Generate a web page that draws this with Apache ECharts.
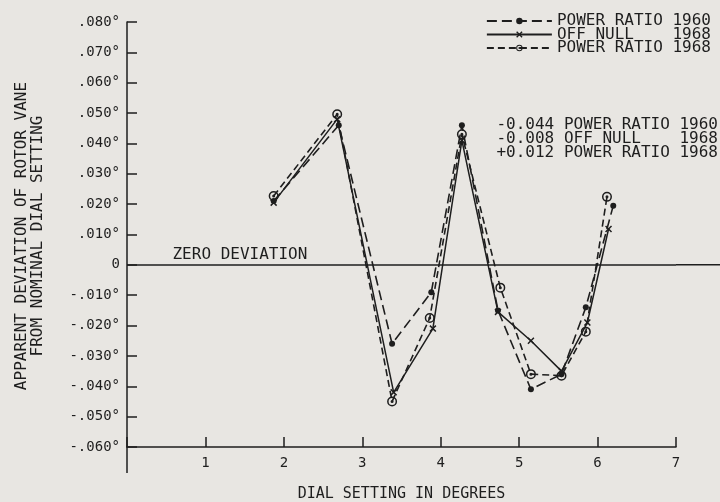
<!DOCTYPE html>
<html><head><meta charset="utf-8">
<script src="https://cdn.jsdelivr.net/npm/echarts@6/dist/echarts.min.js"></script>
<style>html,body{margin:0;padding:0;background:#e8e6e2}#c{width:720px;height:502px}</style>
</head><body><div id="c"></div><script>
// ---- data ----
const seriesNames = ['POWER RATIO 1960', 'OFF NULL    1968', 'POWER RATIO 1968'];
const pr1960X = [1.87, 2.70, 3.38, 3.88, 4.27, 4.73, 5.15, 5.54, 5.85, 6.20];
const pr1960Y = [0.021, 0.046, -0.026, -0.009, 0.046, -0.015, -0.041, -0.036, -0.014, 0.0195];
const offNullX = [1.87, 2.68, 3.40, 3.90, 4.27, 4.73, 5.15, 5.54, 5.87, 6.14];
const offNullY = [0.0205, 0.048, -0.042, -0.021, 0.041, -0.0155, -0.025, -0.035, -0.019, 0.0118];
const pr1968X = [1.87, 2.68, 3.38, 3.86, 4.27, 4.76, 5.15, 5.54, 5.85, 6.12];
const pr1968Y = [0.0227, 0.0496, -0.045, -0.0175, 0.043, -0.0075, -0.036, -0.0365, -0.022, 0.0224];
const meanLabels = ['-0.044 POWER RATIO 1960', '-0.008 OFF NULL    1968', '+0.012 POWER RATIO 1968'];
const zeroLabel = 'ZERO DEVIATION';
const xAxisTitle = 'DIAL SETTING IN DEGREES';
const yAxisTitle = ['APPARENT DEVIATION OF ROTOR VANE', 'FROM NOMINAL DIAL SETTING'];
const xMin = 0, xMax = 7, xStep = 1;
const yMin = -0.06, yMax = 0.08, yStep = 0.01;

// ---- styling ----
const INK = '#1e1e1e';
const BG = '#e8e6e2';
const FONT = 'DejaVu Sans Mono';
const circleDot = 'path://M10,0A10,10,0,1,1,10,20A10,10,0,1,1,10,0ZM10,3A7,7,0,1,0,10,17A7,7,0,1,0,10,3ZM10,7A3,3,0,1,1,10,13A3,3,0,1,1,10,7Z';
const cross = 'path://M0,1.5L1.5,0L5,3.5L8.5,0L10,1.5L6.5,5L10,8.5L8.5,10L5,6.5L1.5,10L0,8.5L3.5,5Z';
const pairs = (xs, ys) => xs.map((x, i) => [x, ys[i]]);

const chart = echarts.init(document.getElementById('c'), null, {renderer: 'canvas'});
const option = {
  backgroundColor: BG,
  animation: false,
  textStyle: {fontFamily: FONT, color: INK},
  grid: {left: 127, right: 44, top: 22, bottom: 55, outerBoundsMode: 'none', containLabel: false},
  legend: {
    orient: 'vertical', right: 4, top: 8, itemWidth: 65, itemHeight: 8, itemGap: -2.5,
    align: 'left',
    textStyle: {fontFamily: FONT, fontSize: 16, color: INK, lineHeight: 14},
    data: seriesNames
  },
  xAxis: {
    type: 'value', min: xMin, max: xMax, interval: xStep,
    name: xAxisTitle, nameLocation: 'middle', nameGap: 40,
    nameTextStyle: {fontFamily: FONT, fontSize: 15, color: INK},
    axisLine: {onZero: false, lineStyle: {color: INK, width: 1.5}},
    axisTick: {inside: true, length: 10, lineStyle: {color: INK, width: 1.5}},
    axisLabel: {margin: 9, fontFamily: FONT, fontSize: 14, color: INK,
      formatter: v => (v === 0 ? '' : String(v))},
    splitLine: {show: false}
  },
  yAxis: {
    type: 'value', min: yMin, max: yMax, interval: yStep,
    axisLine: {show: true, onZero: false, lineStyle: {color: INK, width: 1.5}},
    axisTick: {show: true, inside: true, length: 10, lineStyle: {color: INK, width: 1.5}},
    axisLabel: {margin: 7, fontFamily: FONT, fontSize: 14, color: INK,
      formatter: v => {
        const m = Math.round(v * 1000);
        if (m === 0) return '0';
        return (m < 0 ? '-' : '') + '.' + String(Math.abs(m)).padStart(3, '0') + '°';
      }},
    splitLine: {show: false}
  },
  series: [
    {
      name: seriesNames[0], type: 'line', data: pairs(pr1960X, pr1960Y),
      symbol: 'circle', symbolSize: 6,
      itemStyle: {color: INK},
      lineStyle: {color: INK, width: 1.6, type: [10, 5]},
      markLine: {
        silent: true, symbol: 'none', label: {show: false},
        lineStyle: {color: INK, width: 1.5, type: 'solid'},
        data: [{yAxis: 0}]
      }
    },
    {
      name: seriesNames[1], type: 'line', data: pairs(offNullX, offNullY),
      symbol: cross, symbolSize: 7,
      itemStyle: {color: INK},
      lineStyle: {color: INK, width: 1.5, type: 'solid'}
    },
    {
      name: seriesNames[2], type: 'line', data: pairs(pr1968X, pr1968Y),
      symbol: circleDot, symbolSize: 10, symbolKeepAspect: true,
      itemStyle: {color: INK},
      lineStyle: {color: INK, width: 1.6, type: [7, 4]}
    }
  ]
};
chart.setOption(option);

// decorations positioned through the chart's own scales
const zR = chart.convertToPixel({gridIndex: 0}, [xMax, 0]);
const zL = chart.convertToPixel({gridIndex: 0}, [0.58, 0]);
const yB = chart.convertToPixel({gridIndex: 0}, [0, yMin]);
const ann = chart.convertToPixel({gridIndex: 0}, [xMax, 0.0484]);
chart.setOption({
  graphic: [
    {type: 'line', silent: true, shape: {x1: zR[0], y1: zR[1], x2: 720, y2: zR[1]},
     style: {stroke: INK, lineWidth: 1.5}},
    {type: 'line', silent: true, shape: {x1: yB[0], y1: yB[1], x2: yB[0], y2: yB[1] + 26},
     style: {stroke: INK, lineWidth: 1.5}},
    {type: 'text', silent: true, x: zL[0], y: zL[1] - 2,
     style: {text: zeroLabel, font: '16px "' + FONT + '"', fill: INK, textAlign: 'left', textVerticalAlign: 'bottom'}},
    {type: 'text', silent: true, x: 718, y: ann[1],
     style: {text: meanLabels.join('\n'), font: '16px "' + FONT + '"', lineHeight: 14, fill: INK, textAlign: 'right', textVerticalAlign: 'top'}},
    {type: 'text', silent: true, x: 30, y: 236, rotation: Math.PI / 2,
     style: {text: yAxisTitle.join('\n'), font: '16px "' + FONT + '"', lineHeight: 16, fill: INK, textAlign: 'center', textVerticalAlign: 'middle'}}
  ]
});
</script></body></html>
